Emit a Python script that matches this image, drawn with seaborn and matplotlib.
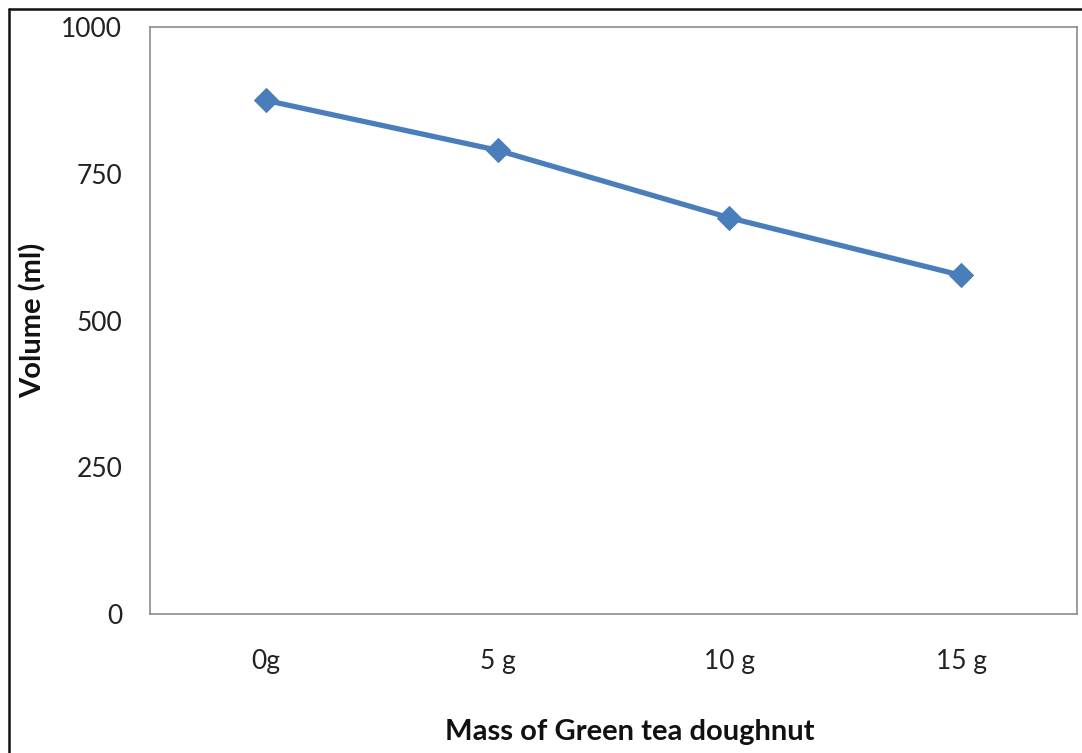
import matplotlib
matplotlib.use("Agg")
import matplotlib.pyplot as plt
from matplotlib.lines import Line2D
import seaborn as sns
import pandas as pd

# Data
masses = ["0g", "5 g", "10 g", "15 g"]
volumes = [875, 790, 675, 577]
y_ticks = [0, 250, 500, 750, 1000]

sns.set_style("white")
plt.rcParams["font.family"] = ["Lato", "DejaVu Sans"]

df = pd.DataFrame({"mass": masses, "volume": volumes})

fig = plt.figure(figsize=(10.82, 7.53), dpi=100)
ax = fig.add_axes([150 / 1082, 1 - 614 / 753, 927 / 1082, 587 / 753])

line_color = "#4a7ebb"
sns.lineplot(data=df, x="mass", y="volume", ax=ax, sort=False,
             color=line_color, linewidth=3.8, marker="D", markersize=12,
             markeredgecolor=line_color, markerfacecolor=line_color)

ax.set_xlim(-0.5, 3.5)
ax.set_ylim(0, 1000)
ax.set_yticks(y_ticks)
ax.set_yticklabels([str(t) for t in y_ticks])
ax.tick_params(axis="both", length=0, labelsize=19, colors="#222222")
ax.tick_params(axis="y", pad=20)
ax.tick_params(axis="x", pad=25)

for side in ["left", "right", "top", "bottom"]:
    ax.spines[side].set_color("#8c8c8c")
    ax.spines[side].set_linewidth(1.2)

ax.set_xlabel("Mass of Green tea doughnut", fontsize=21, fontweight="bold",
              color="#111111")
ax.set_ylabel("Volume (ml)", fontsize=21, fontweight="bold", color="#111111")
ax.xaxis.set_label_coords((630 - 150) / 927, (614 - 732) / 587)
ax.yaxis.set_label_coords((33 - 150) / 927, (614 - 320) / 587)
ax.xaxis.label.set_va("center")
ax.yaxis.label.set_va("center")

# Outer chart frame (left and top edges)
fig.add_artist(Line2D([9 / 1082, 9 / 1082], [0, 1 - 9 / 753],
                      transform=fig.transFigure, color="#111111", linewidth=1.8))
fig.add_artist(Line2D([9 / 1082, 1], [1 - 9 / 753, 1 - 9 / 753],
                      transform=fig.transFigure, color="#111111", linewidth=1.8))

fig.savefig("out.png", dpi=100)
